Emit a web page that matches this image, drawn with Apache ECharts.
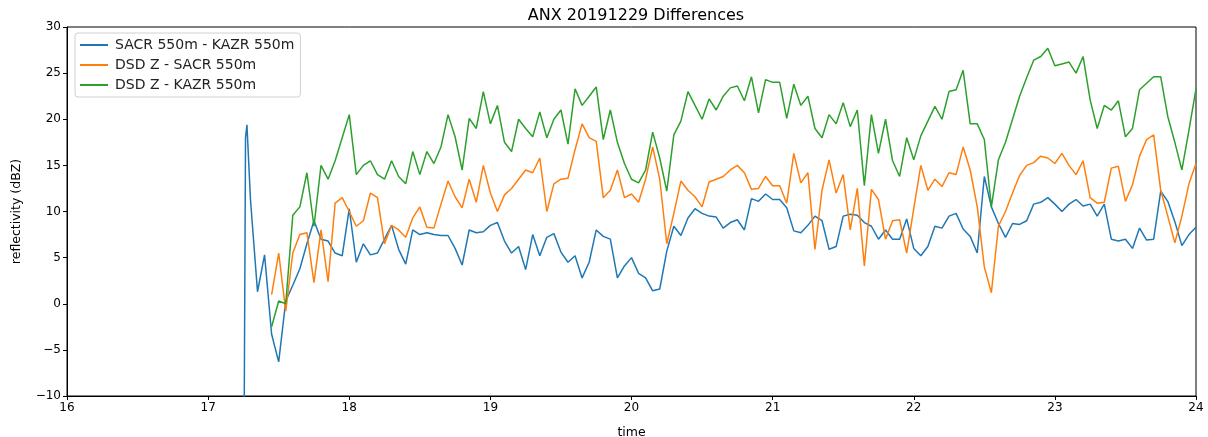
<!DOCTYPE html>
<html>
<head>
<meta charset="utf-8">
<script src="https://cdn.jsdelivr.net/npm/echarts@6/dist/echarts.min.js"></script>
<style>
  html, body { margin: 0; padding: 0; background: #fff; }
  #chart { width: 1208px; height: 437px; }
</style>
</head>
<body>
<div id="chart"></div>
<script>
// Sampling grid: 3-minute steps (0.05 h) from 17.30 to 24.00 UTC hours
const gridStart = 17.30;
const gridStep = 0.05;

// Leading samples of the SACR - KAZR trace (sharp spike at first light)
const sacrKazrLead = [[17.25, -30], [17.265, 18.0], [17.275, 19.4]];

// SACR 550m - KAZR 550m (dBZ) on the sampling grid
const sacrKazr = [
  11.3, 1.3, 5.3, -3.3, -6.3, 0.3, 2.0, 3.8, 6.5, 9.0,
  7.0, 6.8, 5.5, 5.2, 10.3, 4.5, 6.5, 5.3, 5.5, 7.0,
  8.5, 5.9, 4.3, 8.0, 7.5, 7.7, 7.5, 7.4, 7.4, 6.0,
  4.2, 8.0, 7.7, 7.8, 8.5, 8.8, 6.8, 5.5, 6.2, 3.7,
  7.5, 5.2, 7.2, 7.6, 5.6, 4.5, 5.2, 2.8, 4.5, 8.0,
  7.3, 7.0, 2.8, 4.1, 5.0, 3.3, 2.8, 1.4, 1.6, 5.7,
  8.4, 7.4, 9.3, 10.3, 9.8, 9.5, 9.4, 8.2, 8.8, 9.1,
  8.0, 11.4, 11.1, 11.9, 11.3, 11.3, 10.4, 7.9, 7.7, 8.5,
  9.5, 9.0, 5.9, 6.2, 9.5, 9.7, 9.6, 8.8, 8.4, 7.0,
  8.0, 7.0, 7.0, 9.2, 6.0, 5.2, 6.2, 8.4, 8.2, 9.5,
  9.8, 8.1, 7.3, 5.5, 13.8, 10.5, 8.7, 7.2, 8.7, 8.6,
  9.0, 10.8, 11.0, 11.5, 10.8, 10.0, 10.8, 11.3, 10.6, 10.8,
  9.5, 10.8, 7.0, 6.8, 7.0, 6.0, 8.2, 6.9, 7.0, 12.2,
  11.1, 8.9, 6.3, 7.5, 8.3
];

// DSD Z - SACR 550m (dBZ)
const dsdSacr = [
  null, null, null, 1.0, 5.5, -0.8, 5.5, 7.5, 7.7, 2.3,
  8.0, 2.4, 10.9, 11.5, 10.0, 8.4, 9.0, 12.0, 11.5, 6.5,
  8.5, 8.0, 7.2, 9.3, 10.5, 8.3, 8.2, 10.8, 13.3, 11.6,
  10.4, 13.5, 11.0, 15.0, 12.0, 10.0, 11.8, 12.5, 13.5, 14.5,
  14.2, 15.8, 10.0, 13.0, 13.5, 13.6, 16.7, 19.5, 18.0, 17.6,
  11.5, 12.3, 14.5, 11.5, 11.9, 11.0, 13.5, 17.0, 13.5, 6.5,
  9.8, 13.3, 12.3, 11.6, 10.5, 13.2, 13.5, 13.8, 14.5, 15.0,
  14.2, 12.4, 12.5, 13.8, 12.8, 12.8, 10.9, 16.3, 13.1, 14.2,
  5.9, 12.3, 15.6, 12.0, 14.0, 8.0, 12.5, 4.1, 12.4, 11.3,
  7.0, 9.0, 9.1, 5.5, 10.3, 15.0, 12.3, 13.5, 12.7, 14.2,
  14.0, 17.0, 14.5, 10.5, 4.0, 1.2, 8.4, 10.0, 12.0, 13.9,
  15.0, 15.3, 16.0, 15.8, 15.2, 16.3, 15.0, 14.0, 15.5, 11.5,
  10.9, 11.0, 14.7, 14.9, 11.1, 12.9, 16.0, 17.8, 18.3, 12.3,
  9.5, 6.6, 9.5, 13.0, 15.2
];

// DSD Z - KAZR 550m (dBZ)
const dsdKazr = [
  null, null, null, -2.5, 0.3, 0.0, 9.6, 10.5, 14.2, 8.4,
  15.0, 13.5, 15.5, 18.0, 20.5, 14.0, 15.0, 15.5, 14.0, 13.5,
  15.5, 13.8, 13.0, 16.5, 14.0, 16.5, 15.2, 17.0, 20.5, 18.1,
  14.5, 20.1, 19.0, 23.0, 19.5, 21.5, 17.5, 16.5, 20.0, 19.0,
  18.1, 20.8, 18.0, 20.0, 21.0, 17.3, 23.3, 21.5, 22.5, 23.5,
  17.8, 21.0, 17.5, 15.2, 13.5, 13.1, 14.5, 18.6, 15.8, 12.2,
  18.3, 19.8, 23.0, 21.5, 20.0, 22.2, 21.0, 22.5, 23.4, 23.6,
  22.0, 24.6, 20.7, 24.3, 24.0, 24.0, 20.1, 23.8, 21.5, 22.5,
  19.0, 18.0, 20.5, 19.5, 21.8, 19.2, 21.0, 12.8, 20.5, 16.3,
  20.0, 15.5, 13.8, 18.0, 15.6, 18.2, 19.8, 21.4, 20.0, 23.0,
  23.2, 25.3, 19.5, 19.5, 17.8, 10.5, 15.6, 17.5, 20.0, 22.5,
  24.5, 26.4, 26.8, 27.7, 25.8, 26.0, 26.2, 25.0, 26.8, 22.1,
  19.0, 21.5, 21.0, 22.0, 18.1, 19.0, 23.2, 23.9, 24.6, 24.6,
  20.3, 17.5, 14.5, 18.8, 23.3
];

const seriesNames = ['SACR 550m - KAZR 550m', 'DSD Z - SACR 550m', 'DSD Z - KAZR 550m'];
const seriesColors = ['#1f77b4', '#ff7f0e', '#2ca02c'];

// Pair each grid value with its time stamp
function onGrid(values) {
  return values.map((v, i) => [+(gridStart + i * gridStep).toFixed(3), v]);
}

const lines = [
  sacrKazrLead.concat(onGrid(sacrKazr)),
  onGrid(dsdSacr),
  onGrid(dsdKazr)
];

const font = 'DejaVu Sans';
const minus = v => String(v).replace('-', '\u2212');

const chart = echarts.init(document.getElementById('chart'), null, { renderer: 'canvas' });
chart.setOption({
  animation: false,
  backgroundColor: '#fff',
  title: {
    text: 'ANX 20191229 Differences',
    left: 631, top: 3, textAlign: 'center',
    textStyle: { fontFamily: font, fontSize: 16, fontWeight: 'normal', color: '#000' }
  },
  grid: {
    left: 67, right: 12, top: 27, bottom: 41,
    outerBoundsMode: 'none', containLabel: false,
    show: true, borderColor: '#000', borderWidth: 1, backgroundColor: 'transparent'
  },
  legend: {
    orient: 'vertical', left: 75, top: 33,
    data: seriesNames,
    icon: 'rect', itemWidth: 28, itemHeight: 2, itemGap: 6,
    padding: [5, 6, 5, 5],
    borderColor: '#d0d0d0', borderWidth: 1, borderRadius: 3,
    backgroundColor: 'rgba(255,255,255,0.85)',
    textStyle: { fontFamily: font, fontSize: 14, color: '#222', padding: [0, 0, 0, 2] }
  },
  xAxis: {
    type: 'value', min: 16, max: 24, interval: 1,
    name: 'time', nameLocation: 'middle', nameGap: 30,
    nameTextStyle: { fontFamily: font, fontSize: 12.5, color: '#000' },
    axisLine: { show: true, onZero: false, lineStyle: { color: '#000', width: 1 } },
    axisTick: { show: true, length: 4, lineStyle: { color: '#000' } },
    axisLabel: { fontFamily: font, fontSize: 12, color: '#000', margin: 6 },
    splitLine: { show: false }
  },
  yAxis: {
    type: 'value', min: -10, max: 30, interval: 5,
    name: 'reflectivity (dBZ)', nameLocation: 'middle', nameGap: 44, nameRotate: 90,
    nameTextStyle: { fontFamily: font, fontSize: 12.5, color: '#000' },
    axisLine: { show: true, onZero: false, lineStyle: { color: '#000', width: 1 } },
    axisTick: { show: true, length: 4, lineStyle: { color: '#000' } },
    axisLabel: { fontFamily: font, fontSize: 12, color: '#000', margin: 6, formatter: minus },
    splitLine: { show: false }
  },
  series: lines.map((data, k) => ({
    name: seriesNames[k],
    type: 'line',
    data: data,
    showSymbol: false,
    symbol: 'none',
    clip: true,
    connectNulls: false,
    color: seriesColors[k],
    lineStyle: { color: seriesColors[k], width: 1.5 },
    z: 2 + k
  }))
});
</script>
</body>
</html>
